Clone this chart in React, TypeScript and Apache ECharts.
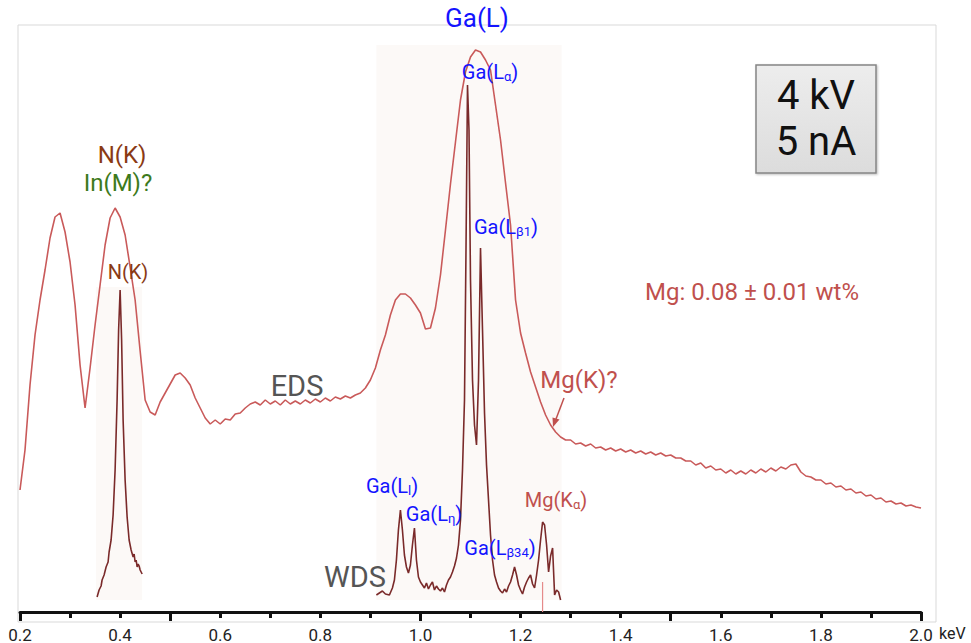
import React, { useEffect, useRef } from 'react';
import * as echarts from 'echarts';

// EDS spectrum: channel grid 0.20 .. 2.00 keV every 0.01 keV
const edsStart = 0.2;
const edsStep = 0.01;
const edsCounts = [
  122, 162, 227, 277, 312, 342, 374, 395, 399, 380,
  350, 307, 247, 204, 244, 287, 327, 367, 394, 404,
  395, 377, 345, 312, 261, 212, 200, 197, 210, 219,
  228, 237, 239, 234, 227, 214, 204, 194, 188, 192,
  188, 193, 192, 198, 199, 204, 208, 210, 207, 212,
  208, 211, 207, 212, 208, 211, 208, 212, 209, 213,
  210, 214, 211, 215, 213, 216, 214, 217, 219, 224,
  232, 244, 262, 277, 297, 312, 318, 318, 314, 307,
  299, 283, 284, 304, 337, 382, 428, 470, 512, 540,
  555, 562, 560, 552, 542, 507, 472, 429, 387, 312,
  279, 259, 240, 225, 210, 197, 187, 180, 175, 172,
  172, 168, 169, 166, 168, 164, 165, 162, 164, 161,
  163, 160, 162, 159, 161, 158, 160, 157, 159, 156,
  157, 154, 154, 151, 151, 147, 149, 144, 146, 142,
  143, 139, 142, 138, 141, 138, 142, 139, 143, 140,
  144, 141, 145, 143, 147, 148, 140, 136, 135, 132,
  132, 128, 129, 125, 126, 122, 123, 119, 120, 116,
  117, 113, 114, 110, 111, 108, 109, 106, 107, 105,
  104,
];

// WDS scan around N(K)
const wdsNEnergy = [
  0.354, 0.358, 0.362, 0.364, 0.368, 0.372, 0.376, 0.378, 0.382, 0.386,
  0.390, 0.394, 0.397, 0.400, 0.403, 0.406, 0.410, 0.414, 0.418, 0.422,
  0.426, 0.428, 0.430, 0.432, 0.434, 0.436, 0.438, 0.440, 0.442, 0.444,
];
const wdsNCounts = [
  15, 22, 26, 32, 37, 45, 50, 60, 72, 97,
  142, 212, 282, 322, 272, 192, 132, 95, 72, 62,
  55, 58, 50, 52, 45, 48, 46, 42, 40, 38,
];

// WDS scan around Ga(L) / Mg(K)
const wdsGaEnergy = [
  0.912, 0.918, 0.924, 0.930, 0.938, 0.944, 0.948, 0.952, 0.956, 0.960,
  0.964, 0.968, 0.972, 0.976, 0.980, 0.984, 0.988, 0.992, 0.996, 1.000,
  1.004, 1.008, 1.012, 1.016, 1.020, 1.024, 1.028, 1.032, 1.036, 1.040,
  1.044, 1.048, 1.052, 1.056, 1.060, 1.064, 1.068, 1.072, 1.076, 1.080,
  1.084, 1.088, 1.091, 1.094, 1.097, 1.100, 1.104, 1.108, 1.112, 1.116,
  1.120, 1.124, 1.128, 1.132, 1.136, 1.140, 1.144, 1.148, 1.152, 1.156,
  1.160, 1.164, 1.168, 1.172, 1.176, 1.180, 1.184, 1.188, 1.192, 1.196,
  1.200, 1.204, 1.208, 1.212, 1.216, 1.220, 1.224, 1.228, 1.232, 1.236,
  1.240, 1.244, 1.248, 1.252, 1.256, 1.260, 1.264, 1.268, 1.272, 1.276,
  1.280,
];
const wdsGaCounts = [
  17, 19, 21, 18, 17, 24, 32, 52, 82, 102,
  82, 57, 45, 39, 47, 67, 84, 52, 35, 30,
  27, 24, 29, 23, 27, 30, 22, 26, 23, 21,
  24, 20, 27, 32, 35, 40, 46, 54, 67, 92,
  142, 212, 362, 527, 482, 332, 232, 187, 167, 232,
  364, 282, 199, 147, 112, 77, 52, 37, 30, 24,
  21, 19, 23, 20, 26, 30, 37, 45, 37, 27,
  22, 18, 25, 30, 34, 37, 28, 24, 37, 52,
  72, 90, 87, 67, 40, 56, 64, 17, 22, 20,
  12,
];

// Mg(Kα) position marker
const mgMarkerEnergy = 1.244;
const mgMarkerCounts = [0, 30];

// x-axis ticks
const majorTicks = [0.2, 0.5, 1.0, 1.5, 2.0];

// WDS scan windows: [eMin, eMax, countMin, countMax]
const wdsWindows = [
  [0.352, 0.444, 12, 325],
  [0.912, 1.282, 12, 567],
];

const FONT = 'Roboto';
const BLUE = '#1414ff';
const RED = '#c0504d';
const EDS_COLOR = '#c95a5a';
const WDS_COLOR = '#7a2a2a';

function subLabel(main: string, sub: string, x: number, y: number, color: string) {
  return {
    type: 'text',
    x,
    y,
    z: 50,
    style: {
      text: `{n|${main}}{s|${sub}}{n|)}`,
      align: 'center',
      verticalAlign: 'middle',
      rich: {
        n: { fontSize: 20, fontFamily: FONT, fill: color, lineHeight: 22 },
        s: { fontSize: 13, fontFamily: FONT, fill: color, lineHeight: 13, padding: [9, 0, 0, 0] },
      },
    },
  };
}

function plainText(text: string, x: number, y: number, size: number, color: string, align = 'center') {
  return {
    type: 'text',
    x,
    y,
    z: 50,
    style: {
      text,
      fontSize: size,
      fontFamily: FONT,
      fill: color,
      align,
      verticalAlign: 'middle',
    },
  };
}

export default function App() {
  const ref = useRef<HTMLDivElement>(null);

  useEffect(() => {
    const chart = echarts.init(ref.current as HTMLDivElement, null, { renderer: 'svg' });

    const edsData = edsCounts.map((c, i) => [+(edsStart + i * edsStep).toFixed(2), c]);
    const wdsNData = wdsNEnergy.map((e, i) => [e, wdsNCounts[i]]);
    const wdsGaData = wdsGaEnergy.map((e, i) => [e, wdsGaCounts[i]]);
    const mgData = mgMarkerCounts.map((c) => [mgMarkerEnergy, c]);

    const option: any = {
      animation: false,
      backgroundColor: '#ffffff',
      grid: { left: 20, right: 50, top: 25, bottom: 31, containLabel: false },
      xAxis: [
        {
          type: 'value',
          min: 0.2,
          max: 2.0,
          interval: 0.2,
          position: 'bottom',
          axisLine: { show: true, onZero: false, lineStyle: { color: '#111', width: 3 } },
          axisTick: { show: true, customValues: majorTicks, length: 9, lineStyle: { color: '#111', width: 3 } },
          axisLabel: {
            formatter: (v: number) => v.toFixed(1),
            fontSize: 17,
            fontFamily: FONT,
            color: '#222',
            margin: 14,
            showMinLabel: true,
            showMaxLabel: true,
          },
          splitLine: { show: false },
        },
        {
          type: 'value',
          min: 0.2,
          max: 2.0,
          interval: 0.1,
          position: 'bottom',
          axisLine: { show: false, onZero: false },
          axisTick: { show: true, length: 6, lineStyle: { color: '#111', width: 3 } },
          axisLabel: { show: false },
          splitLine: { show: false },
        },
      ],
      yAxis: { type: 'value', min: 0, max: 587, show: false },
      series: [
        {
          name: 'windows',
          type: 'line',
          xAxisIndex: 0,
          data: [],
          symbol: 'none',
          z: 1,
          silent: true,
          markArea: {
            silent: true,
            itemStyle: { color: '#fcf9f7' },
            data: wdsWindows.map((w) => [{ coord: [w[0], w[2]] }, { coord: [w[1], w[3]] }]),
          },
        },
        {
          name: 'EDS',
          type: 'line',
          xAxisIndex: 0,
          data: edsData,
          symbol: 'none',
          z: 3,
          lineStyle: { color: EDS_COLOR, width: 1.6 },
        },
        {
          name: 'WDS N',
          type: 'line',
          xAxisIndex: 0,
          data: wdsNData,
          symbol: 'none',
          z: 4,
          lineStyle: { color: WDS_COLOR, width: 1.6 },
        },
        {
          name: 'WDS Ga',
          type: 'line',
          xAxisIndex: 0,
          data: wdsGaData,
          symbol: 'none',
          z: 4,
          lineStyle: { color: WDS_COLOR, width: 1.6 },
        },
        {
          name: 'Mg marker',
          type: 'line',
          xAxisIndex: 0,
          data: mgData,
          symbol: 'none',
          z: 2,
          lineStyle: { color: '#e58a8a', width: 1.2 },
        },
      ],
      graphic: [
        {
          type: 'rect',
          z: 0,
          silent: true,
          shape: { x: 18, y: 25, width: 918, height: 597 },
          style: { fill: 'none', stroke: '#d9d9d9', lineWidth: 1 },
        },
        plainText('Ga(L)', 477, 18, 26, BLUE),
        subLabel('Ga(L', 'α', 490, 72, BLUE),
        subLabel('Ga(L', 'β1', 506, 227, BLUE),
        subLabel('Ga(L', 'l', 392, 486, BLUE),
        subLabel('Ga(L', 'η', 434, 514, BLUE),
        subLabel('Ga(L', 'β34', 500, 548, BLUE),
        subLabel('Mg(K', 'α', 556, 500, RED),
        plainText('N(K)', 122, 155, 24, '#8a3a14'),
        plainText('In(M)?', 118, 183, 24, '#3d7a1c'),
        plainText('N(K)', 128, 272, 20, '#8a3a14'),
        plainText('EDS', 297, 386, 29, '#555555'),
        plainText('WDS', 355, 577, 29, '#555555'),
        plainText('Mg(K)?', 579, 380, 24, RED),
        plainText('Mg: 0.08 ± 0.01 wt%', 752, 292, 24, RED),
        {
          type: 'line',
          z: 50,
          shape: { x1: 564, y1: 398, x2: 556, y2: 419 },
          style: { stroke: RED, lineWidth: 1.5 },
        },
        {
          type: 'polygon',
          z: 50,
          shape: { points: [[553, 427], [559.5, 419.5], [552.5, 417.5]] },
          style: { fill: RED },
        },
        {
          type: 'rect',
          z: 40,
          shape: { x: 756, y: 65, width: 120, height: 108 },
          style: {
            fill: new echarts.graphic.LinearGradient(0, 0, 0, 1, [
              { offset: 0, color: '#ededed' },
              { offset: 1, color: '#dcdcdc' },
            ]),
            stroke: '#858585',
            lineWidth: 1.5,
            shadowBlur: 2,
            shadowColor: 'rgba(0,0,0,0.25)',
            shadowOffsetX: 1,
            shadowOffsetY: 1,
          },
        },
        plainText('4 kV', 816, 95, 40, '#111111'),
        plainText('5 nA', 816, 141, 40, '#111111'),
        plainText('keV', 939, 633, 16, '#222222', 'left'),
      ],
    };

    chart.setOption(option);
    return () => chart.dispose();
  }, []);

  return (
    <div
      ref={ref}
      style={{ position: 'fixed', left: 0, top: 0, width: 971, height: 643, background: '#fff' }}
    />
  );
}
